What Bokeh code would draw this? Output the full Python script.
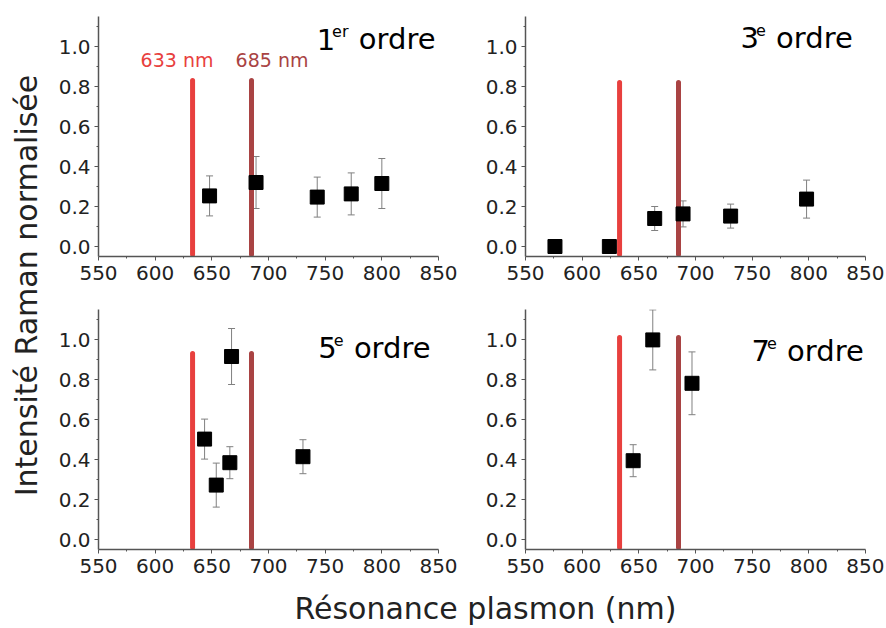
from math import pi
from bokeh.plotting import figure
from bokeh.models import (Range1d, FixedTicker, PrintfTickFormatter, Label,
                          ColumnDataSource, Whisker, TeeHead)
from bokeh.layouts import row, column
from bokeh.embed import file_html
from bokeh.resources import INLINE

# ---------------- data ----------------
x_ticks = [550, 600, 650, 700, 750, 800, 850]
x_minor = [575, 625, 675, 725, 775, 825]
y_ticks = [0.0, 0.2, 0.4, 0.6, 0.8, 1.0]
y_minor = [0.1, 0.3, 0.5, 0.7, 0.9, 1.1]

laser_nm = [633, 685]
laser_names = ["633 nm", "685 nm"]
laser_colors = ["#e8403e", "#a94343"]

order_num = ["1", "3", "5", "7"]
order_sup = ["er", "e", "e", "e"]
laser_tops = [0.83, 0.82, 0.93, 1.01]

res_1 = [648, 689, 743, 773, 800]
int_1 = [0.253, 0.32, 0.247, 0.263, 0.315]
err_1 = [0.10, 0.13, 0.10, 0.105, 0.125]

res_3 = [576, 624, 664, 689, 731, 798]
int_3 = [0.0, 0.0, 0.14, 0.163, 0.152, 0.237]
err_3 = [0.0, 0.0, 0.06, 0.065, 0.06, 0.095]

res_5 = [643.6, 653.9, 665.9, 667.4, 730.4]
int_5 = [0.502, 0.272, 0.384, 0.915, 0.414]
err_5 = [0.10, 0.11, 0.08, 0.14, 0.085]

res_7 = [645, 662.3, 696.9]
int_7 = [0.394, 0.998, 0.781]
err_7 = [0.08, 0.15, 0.157]

# ---------------- style / layout constants ----------------
FONT = "DejaVu Sans"
FRAME_W, FRAME_H = 340, 240
X0, X1 = 550, 850
Y0, Y1 = -0.05, 1.15
PX_PER_X = FRAME_W / (X1 - X0)
PX_PER_Y = FRAME_H / (Y1 - Y0)
BASE_FIX = 9  # px correction for the alphabetic baseline placement

TITLE_SIZE = 29
SUP_SIZE = 16
ADV = {"0": .636, "1": .636, "2": .636, "3": .636, "4": .636, "5": .636,
       "6": .636, "7": .636, "8": .636, "9": .636, "e": .615, "r": .411,
       "o": .612, "d": .635, " ": .318}


def text_w(s, size):
    return sum(ADV[c] for c in s) * size


def make_panel(xs, ys, errs, top, num, sup, t_right, t_base,
               bl, br, bt, bb, show_lasers):
    w = bl + FRAME_W + br
    h = bt + FRAME_H + bb
    p = figure(width=w, height=h, title=None, toolbar_location=None,
               output_backend="svg", x_range=Range1d(X0, X1),
               y_range=Range1d(Y0, Y1),
               min_border_left=bl, min_border_right=br,
               min_border_top=bt, min_border_bottom=bb)
    p.outline_line_color = None
    p.grid.visible = False
    p.xaxis.ticker = FixedTicker(ticks=x_ticks, minor_ticks=x_minor)
    p.yaxis.ticker = FixedTicker(ticks=y_ticks, minor_ticks=y_minor)
    p.yaxis.formatter = PrintfTickFormatter(format="%.1f")
    for ax in p.axis:
        ax.axis_line_color = "#555555"
        ax.axis_line_width = 1.5
        ax.major_tick_line_color = "#555555"
        ax.minor_tick_line_color = "#555555"
        ax.major_tick_in = 0
        ax.major_tick_out = 4
        ax.minor_tick_in = 0
        ax.minor_tick_out = 2
        ax.major_label_text_font = FONT
        ax.major_label_text_font_size = "20px"
        ax.major_label_text_color = "#222222"
    p.xaxis.major_label_standoff = 5
    p.yaxis.major_label_standoff = 4

    # laser lines
    p.segment(x0=laser_nm, y0=[-0.04, -0.04], x1=laser_nm, y1=[top, top],
              line_color=laser_colors, line_width=5, line_cap="round")

    # error bars
    src = ColumnDataSource(dict(
        x=xs, y=ys,
        upper=[y + e for y, e in zip(ys, errs)],
        lower=[y - e for y, e in zip(ys, errs)]))
    wh = Whisker(source=src, base="x", upper="upper", lower="lower",
                 dimension="height", line_color="#808080", line_width=1,
                 upper_head=TeeHead(size=7, line_color="#808080", line_width=1),
                 lower_head=TeeHead(size=7, line_color="#808080", line_width=1))
    p.add_layout(wh)
    p.scatter("x", "y", source=src, marker="square", size=14,
              fill_color="black", line_color="black")

    # title  e.g. "1er ordre"
    yb = t_base + BASE_FIX / PX_PER_Y
    w_ordre = text_w("ordre", TITLE_SIZE)
    w_gap = text_w(" ", TITLE_SIZE)
    w_sup = text_w(sup, SUP_SIZE)
    p.add_layout(Label(x=t_right, y=yb, text="ordre", text_align="right",
                       text_baseline="alphabetic", text_font=FONT,
                       text_font_size=f"{TITLE_SIZE}px", text_color="black"))
    x_sup = t_right - (w_ordre + w_gap) / PX_PER_X
    p.add_layout(Label(x=x_sup, y=yb + 8 / PX_PER_Y, text=sup,
                       text_align="right", text_baseline="alphabetic",
                       text_font=FONT, text_font_size=f"{SUP_SIZE}px",
                       text_color="black"))
    x_num = x_sup - (w_sup - 3) / PX_PER_X
    p.add_layout(Label(x=x_num, y=yb, text=num, text_align="right",
                       text_baseline="alphabetic", text_font=FONT,
                       text_font_size=f"{TITLE_SIZE}px", text_color="black"))

    if show_lasers:
        lab_x = [619.3, 703.1]
        for lx, name, col in zip(lab_x, laser_names, laser_colors):
            p.add_layout(Label(x=lx, y=0.89 + BASE_FIX / PX_PER_Y, text=name,
                               text_align="center",
                               text_baseline="alphabetic", text_font=FONT,
                               text_font_size="19px", text_color=col))
    return p


p1 = make_panel(res_1, int_1, err_1, laser_tops[0], order_num[0], order_sup[0],
                847.4, 0.9925, 50, 20, 16, 36, True)
p2 = make_panel(res_3, int_3, err_3, laser_tops[1], order_num[1], order_sup[1],
                838.8, 1.0, 67, 19, 16, 36, False)
p3 = make_panel(res_5, int_5, err_5, laser_tops[2], order_num[2], order_sup[2],
                843.0, 0.915, 50, 20, 17, 36, False)
p4 = make_panel(res_7, int_7, err_7, laser_tops[3], order_num[3], order_sup[3],
                848.5, 0.898, 67, 19, 17, 36, False)

TOTAL_H = 626
XFIG_H = TOTAL_H - p1.height - p3.height

# y-axis title figure
yfig = figure(width=48, height=TOTAL_H, title=None, toolbar_location=None,
              output_backend="svg", x_range=Range1d(0, 48),
              y_range=Range1d(0, TOTAL_H), min_border=0,
              x_axis_location=None, y_axis_location=None)
yfig.outline_line_color = None
yfig.grid.visible = False
yfig.add_layout(Label(x=35 - BASE_FIX, y=TOTAL_H - 285,
                      text="Intensité Raman normalisée",
                      angle=pi / 2, text_align="center",
                      text_baseline="alphabetic", text_font=FONT,
                      text_font_size="30px", text_color="#222222"))

# x-axis title figure
XFIG_W = p1.width + p2.width
xfig = figure(width=XFIG_W, height=XFIG_H, title=None, toolbar_location=None,
              output_backend="svg", x_range=Range1d(0, XFIG_W),
              y_range=Range1d(0, XFIG_H), min_border=0,
              x_axis_location=None, y_axis_location=None)
xfig.outline_line_color = None
xfig.grid.visible = False
xfig.add_layout(Label(x=485 - 48,
                      y=XFIG_H - (617 - p1.height - p3.height) + BASE_FIX,
                      text="Résonance plasmon (nm)",
                      text_align="center", text_baseline="alphabetic",
                      text_font=FONT, text_font_size="30px",
                      text_color="#222222"))

layout = row(yfig, column(row(p1, p2), row(p3, p4), xfig))

with open("out.html", "w") as f:
    f.write(file_html(layout, INLINE))
